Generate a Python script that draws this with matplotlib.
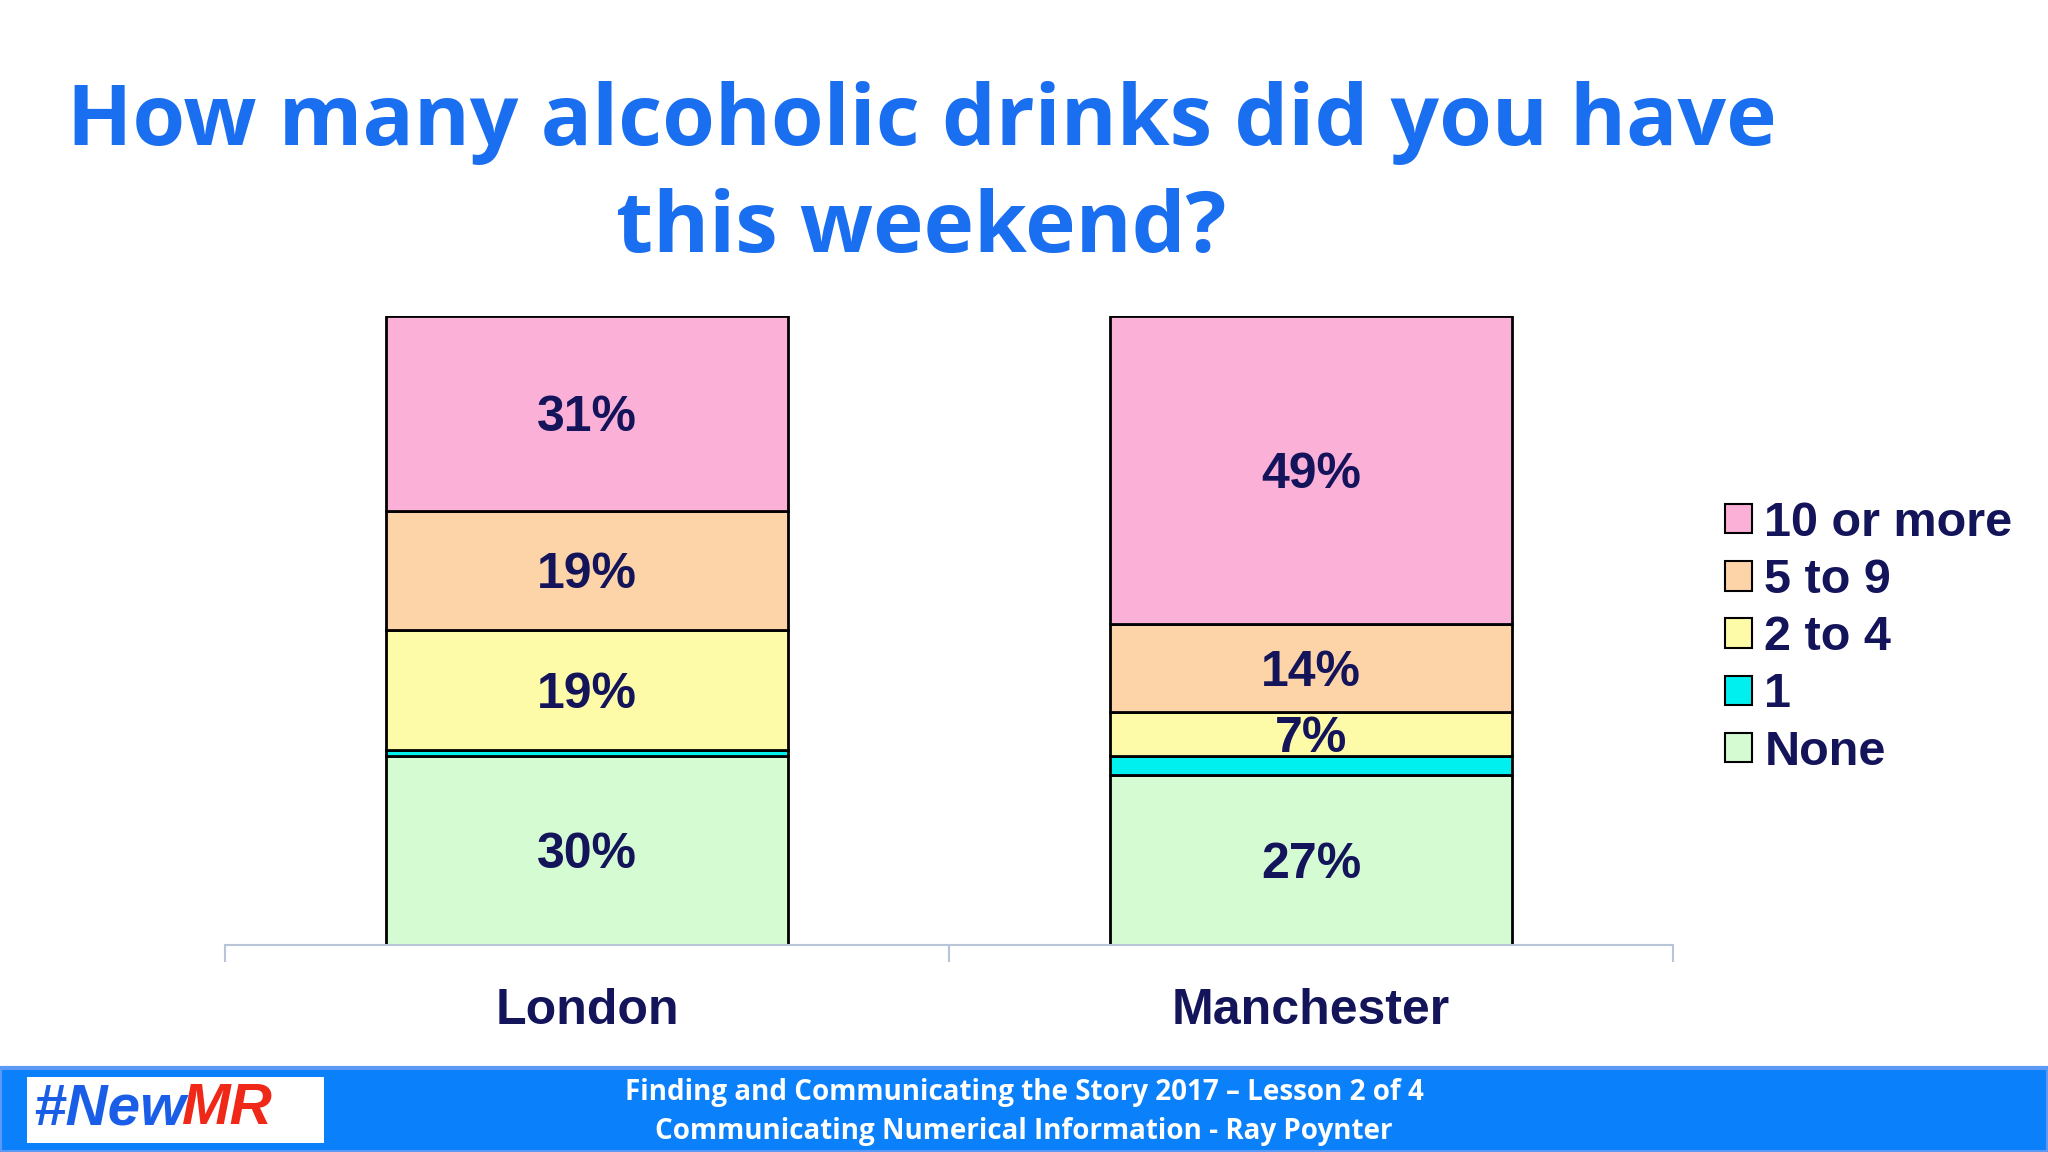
import matplotlib
matplotlib.use("Agg")
import matplotlib.pyplot as plt
from matplotlib.patches import Rectangle, Patch

cities = ["London", "Manchester"]
segments = ["None", "1", "2 to 4", "5 to 9", "10 or more"]
london = [30, 1, 19, 19, 31]
manchester = [27, 3, 7, 14, 49]
colors = ["#d5fbd3", "#00f0f0", "#fdfba8", "#fdd3a8", "#fbb0d8"]
show_label = [True, False, True, True, True]

fig = plt.figure(figsize=(20.48, 11.52), dpi=100)
ax = fig.add_axes([0.110, 0.180, 0.707, 0.546])

data = [london, manchester]
for i, vals in enumerate(data):
    bottom = 0
    for j, v in enumerate(vals):
        ax.bar(i, v, bottom=bottom, width=0.555, color=colors[j],
               edgecolor="black", linewidth=2)
        if show_label[j]:
            ax.text(i, bottom + v / 2 - 0.8, "{}%".format(v), ha="center", va="center",
                    fontsize=36, fontweight="bold", color="#14145a",
                    family="Liberation Sans")
        bottom += v

ax.set_xlim(-0.5, 1.5)
ax.set_ylim(0, 100)
for s in ["top", "right", "left"]:
    ax.spines[s].set_visible(False)
ax.spines["bottom"].set_color("#b8c4d8")
ax.spines["bottom"].set_linewidth(1.5)
ax.set_yticks([])
ax.set_xticks([-0.5, 0.5, 1.5])
ax.set_xticklabels([])
ax.tick_params(axis="x", length=12, color="#b8c4d8", width=1.5)
for i, c in enumerate(cities):
    ax.text(i, -10.5, c, ha="center", va="center", fontsize=36,
            fontweight="bold", color="#14145a", family="Liberation Sans")

handles = [Patch(facecolor=colors[j], edgecolor="black", linewidth=1.5)
           for j in range(len(segments))][::-1]
fig.legend(handles, segments[::-1], loc="upper left",
           bbox_to_anchor=(0.833, 0.582), frameon=False,
           prop={"family": "Liberation Sans", "weight": "bold", "size": 35},
           labelcolor="#14145a", handlelength=0.55, handleheight=0.55,
           handletextpad=0.25, labelspacing=0.25, borderaxespad=0)

fig.text(0.45, 0.893, "How many alcoholic drinks did you have", ha="center",
         va="center", fontsize=61.5, fontweight="bold", color="#1a6ef0",
         family="Open Sans")
fig.text(0.45, 0.800, "this weekend?", ha="center", va="center",
         fontsize=61.5, fontweight="bold", color="#1a6ef0", family="Open Sans")

# footer banner
fig.patches.append(Rectangle((0, 0), 1, 0.073, transform=fig.transFigure,
                             facecolor="#0a80fa", edgecolor="#5a9af5",
                             linewidth=3, zorder=0))
fig.patches.append(Rectangle((0.013, 0.008), 0.145, 0.057, transform=fig.transFigure,
                             facecolor="white", edgecolor="none", zorder=1))
fig.text(0.016, 0.037, "#New", ha="left", va="center", fontsize=42,
         fontweight="bold", style="italic", color="#1a5ee8",
         family="Liberation Sans", zorder=2)
fig.text(0.089, 0.037, "MR", ha="left", va="center", fontsize=42,
         fontweight="bold", style="italic", color="#f02818",
         family="Liberation Sans", zorder=2)
fig.text(0.5, 0.052, "Finding and Communicating the Story 2017 \u2013 Lesson 2 of 4",
         ha="center", va="center", fontsize=20, fontweight="bold",
         color="white", family="Open Sans")
fig.text(0.5, 0.018, "Communicating Numerical Information - Ray Poynter",
         ha="center", va="center", fontsize=20, fontweight="bold",
         color="white", family="Open Sans")

fig.savefig("out.png", dpi=100)
